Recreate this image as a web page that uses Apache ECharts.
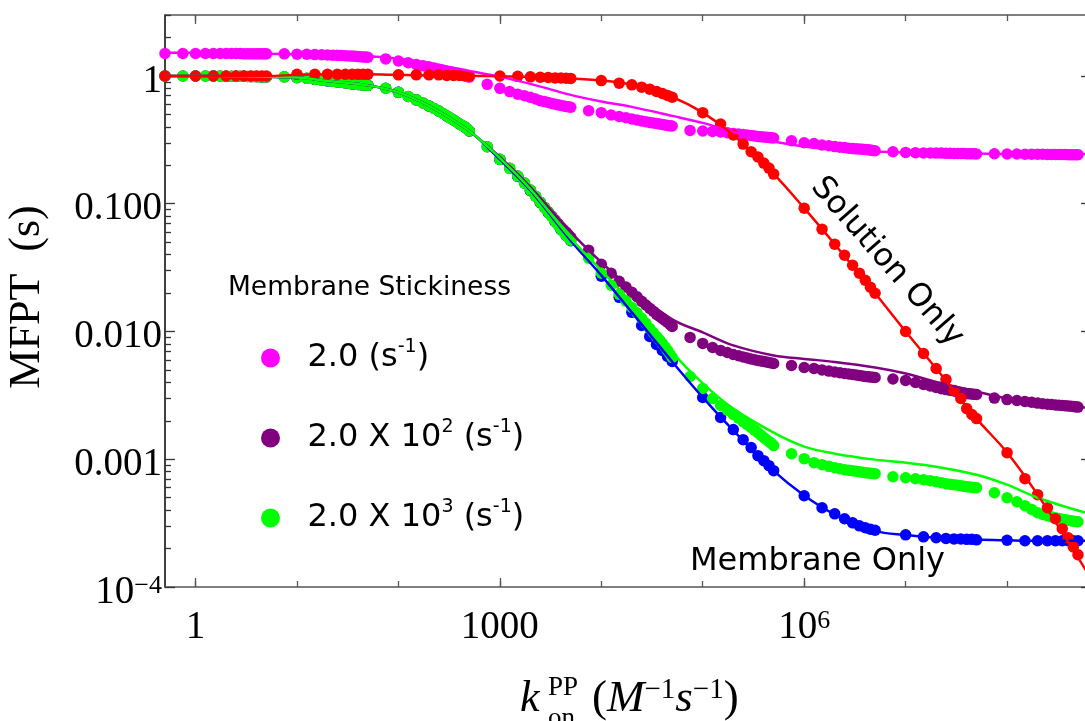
<!DOCTYPE html>
<html>
<head>
<meta charset="utf-8">
<script src="https://cdn.jsdelivr.net/npm/echarts@6/dist/echarts.min.js"></script>
<style>html,body{margin:0;padding:0;background:#fff}#c{width:1085px;height:721px}</style>
</head>
<body>
<div id="c"></div>
<script>
// ---------- data ----------
// k_on^PP sampling of the stickiness runs (magenta, purple, green dots)
const kA = [
  0.5, 0.75,
  1, 1.25, 1.5, 1.75, 2, 2.25, 2.5, 2.75, 3, 3.25, 3.5, 3.75, 4, 4.25, 4.5, 4.75, 5, 7.5,
  10, 12.5, 15, 17.5, 20, 22.5, 25, 27.5, 30, 32.5, 35, 37.5, 40, 42.5, 45, 47.5, 50, 75,
  100, 125, 150, 175, 200, 225, 250, 275, 300, 325, 350, 375, 400, 425, 450, 475, 500, 750,
  1e3, 1.25e3, 1.5e3, 1.75e3, 2e3, 2.25e3, 2.5e3, 2.75e3, 3e3, 3.25e3, 3.5e3, 3.75e3, 4e3, 4.25e3, 4.5e3, 4.75e3, 5e3, 7.5e3,
  1e4, 1.25e4, 1.5e4, 1.75e4, 2e4, 2.25e4, 2.5e4, 2.75e4, 3e4, 3.25e4, 3.5e4, 3.75e4, 4e4, 4.25e4, 4.5e4, 4.75e4, 5e4, 7.5e4,
  1e5, 1.25e5, 1.5e5, 1.75e5, 2e5, 2.25e5, 2.5e5, 2.75e5, 3e5, 3.25e5, 3.5e5, 3.75e5, 4e5, 4.25e5, 4.5e5, 4.75e5, 5e5, 7.5e5,
  1e6, 1.25e6, 1.5e6, 1.75e6, 2e6, 2.25e6, 2.5e6, 2.75e6, 3e6, 3.25e6, 3.5e6, 3.75e6, 4e6, 4.25e6, 4.5e6, 4.75e6, 5e6, 7.5e6,
  1e7, 1.25e7, 1.5e7, 1.75e7, 2e7, 2.25e7, 2.5e7, 2.75e7, 3e7, 3.25e7, 3.5e7, 3.75e7, 4e7, 4.25e7, 4.5e7, 4.75e7, 5e7, 7.5e7,
  1e8, 1.25e8, 1.5e8, 1.75e8, 2e8, 2.25e8, 2.5e8, 2.75e8, 3e8, 3.25e8, 3.5e8, 3.75e8, 4e8, 4.25e8, 4.5e8, 4.75e8, 5e8
];
// k_on^PP sampling of the membrane-only (blue) and solution-only (red) runs
const kB = [
  0.5,
  1, 1.5, 2, 2.5, 3, 3.5, 4, 4.5, 5,
  10, 15, 20, 25, 30, 35, 40, 45, 50,
  100, 150, 200, 250, 300, 350, 400, 450, 500,
  1e3, 1.5e3, 2e3, 2.5e3, 3e3, 3.5e3, 4e3, 4.5e3, 5e3,
  1e4, 1.5e4, 2e4, 2.5e4, 3e4, 3.5e4, 4e4, 4.5e4, 5e4,
  1e5, 1.5e5, 2e5, 2.5e5, 3e5, 3.5e5, 4e5, 4.5e5, 5e5,
  1e6, 1.5e6, 2e6, 2.5e6, 3e6, 3.5e6, 4e6, 4.5e6, 5e6,
  1e7, 1.5e7, 2e7, 2.5e7, 3e7, 3.5e7, 4e7, 4.5e7, 5e7,
  1e8, 1.5e8, 2e8, 2.5e8, 3e8, 3.5e8, 4e8, 4.5e8, 5e8
];
// k values of the fitted curves
const kFit = [0.5, 1, 2, 5, 10, 20, 50, 100, 200, 500, 1e3, 2e3, 5e3, 1e4, 2e4, 5e4,
  1e5, 2e5, 5e5, 1e6, 2e6, 5e6, 1e7, 2e7, 5e7, 1e8, 2e8, 6e8];

const magentaDots = [1.50, 1.50,
  1.50, 1.50, 1.50, 1.50, 1.50, 1.50, 1.50, 1.50, 1.49, 1.49, 1.49, 1.49, 1.49, 1.49, 1.49, 1.49, 1.49, 1.49,
  1.48, 1.48, 1.47, 1.465, 1.46, 1.455, 1.45, 1.445, 1.44, 1.435, 1.43, 1.425, 1.42, 1.415, 1.41, 1.405, 1.40, 1.36,
  1.31, 1.27, 1.23, 1.20, 1.18, 1.155, 1.13, 1.11, 1.09, 1.075, 1.06, 1.045, 1.03, 1.015, 1.00, 0.99, 0.98, 0.86,
  0.80, 0.754, 0.72, 0.70, 0.68, 0.66, 0.64, 0.63, 0.62, 0.61, 0.60, 0.594, 0.588, 0.582, 0.577, 0.573, 0.569, 0.535,
  0.516, 0.495, 0.482, 0.471, 0.461, 0.453, 0.445, 0.439, 0.433, 0.429, 0.425, 0.421, 0.417, 0.413, 0.41, 0.408, 0.406, 0.375,
  0.371, 0.368, 0.365, 0.36, 0.355, 0.351, 0.348, 0.345, 0.342, 0.339, 0.336, 0.334, 0.333, 0.331, 0.330, 0.328, 0.327, 0.311,
  0.300, 0.296, 0.288, 0.284, 0.280, 0.277, 0.275, 0.272, 0.270, 0.269, 0.268, 0.267, 0.266, 0.264, 0.263, 0.261, 0.260, 0.255,
  0.252, 0.251, 0.250, 0.250, 0.249, 0.249, 0.248, 0.248, 0.247, 0.247, 0.247, 0.247, 0.246, 0.246, 0.246, 0.246, 0.245, 0.246,
  0.245, 0.245, 0.244, 0.244, 0.244, 0.244, 0.243, 0.243, 0.243, 0.243, 0.243, 0.243, 0.242, 0.242, 0.242, 0.242, 0.242];
const purpleDots = [1.0, 1.0,
  1.0, 1.0, 1.0, 0.998, 0.996, 0.995, 0.993, 0.993, 0.993, 0.991, 0.989, 0.989, 0.989, 0.987, 0.984, 0.984, 0.984, 0.984,
  0.9715, 0.9576, 0.9404, 0.928, 0.9153, 0.907, 0.899, 0.891, 0.883, 0.875, 0.867, 0.863, 0.859, 0.855, 0.852, 0.848, 0.844, 0.802,
  0.744, 0.692, 0.650, 0.615, 0.583, 0.556, 0.532, 0.508, 0.486, 0.468, 0.452, 0.436, 0.421, 0.41, 0.399, 0.385, 0.371, 0.2795,
  0.2226, 0.1891, 0.1646, 0.145, 0.1278, 0.1145, 0.1029, 0.0937, 0.0865, 0.0802, 0.0745, 0.0698, 0.0656, 0.0626, 0.0599, 0.0572, 0.0547, 0.0433,
  0.0336, 0.02855, 0.0247, 0.0223, 0.02026, 0.0187, 0.01722, 0.0161, 0.01518, 0.0144, 0.01362, 0.0131, 0.01267, 0.0122, 0.01179, 0.01137, 0.01096, 0.00899,
  0.00807, 0.0075, 0.00711, 0.00684, 0.00661, 0.00646, 0.00632, 0.0062, 0.0061, 0.00601, 0.00593, 0.00588, 0.00583, 0.00577, 0.00572, 0.00567, 0.00562, 0.00542,
  0.00523, 0.00514, 0.0050, 0.0049, 0.00482, 0.00475, 0.00469, 0.00465, 0.00461, 0.00456, 0.00452, 0.00448, 0.00444, 0.00442, 0.0044, 0.00438, 0.00436, 0.00425,
  0.00414, 0.00399, 0.00385, 0.00374, 0.00364, 0.00357, 0.00351, 0.00346, 0.00342, 0.00337, 0.00333, 0.0033, 0.00327, 0.00325, 0.00324, 0.00322, 0.00321, 0.00301,
  0.00293, 0.00288, 0.00283, 0.00279, 0.00275, 0.00272, 0.0027, 0.00268, 0.00266, 0.00265, 0.002633, 0.00262, 0.00261, 0.0026, 0.00259, 0.00257, 0.00256];
const greenDots = [1.0, 1.0,
  1.0, 1.0, 1.0, 0.998, 0.996, 0.995, 0.993, 0.993, 0.993, 0.991, 0.989, 0.989, 0.989, 0.987, 0.984, 0.984, 0.984, 0.984,
  0.9715, 0.9576, 0.9404, 0.928, 0.9153, 0.907, 0.899, 0.891, 0.883, 0.875, 0.867, 0.863, 0.859, 0.855, 0.852, 0.848, 0.844, 0.802,
  0.744, 0.692, 0.650, 0.615, 0.583, 0.556, 0.532, 0.508, 0.486, 0.468, 0.452, 0.436, 0.421, 0.41, 0.399, 0.385, 0.371, 0.2795,
  0.2226, 0.1891, 0.1646, 0.145, 0.1278, 0.1145, 0.1029, 0.0935, 0.0859, 0.079, 0.0730, 0.0678, 0.0632, 0.0598, 0.0567, 0.0541, 0.0518, 0.0374,
  0.02855, 0.0230, 0.01954, 0.0173, 0.01545, 0.0140, 0.01267, 0.0116, 0.01057, 0.0098, 0.00915, 0.0086, 0.00807, 0.00757, 0.00711, 0.00667, 0.00626, 0.00444,
  0.00358, 0.00299, 0.002633, 0.00242, 0.002238, 0.0021, 0.00197, 0.00186, 0.00177, 0.00169, 0.001616, 0.00154, 0.001477, 0.00142, 0.001374, 0.00133, 0.001279, 0.001106,
  0.001011, 0.00094, 0.000907, 0.00088, 0.000859, 0.000843, 0.000829, 0.00082, 0.000814, 0.000806, 0.000799, 0.000792, 0.000785, 0.000781, 0.000778, 0.000774, 0.000771, 0.00073,
  0.000717, 0.000704, 0.000692, 0.00068, 0.000667, 0.000655, 0.000643, 0.000637, 0.000632, 0.000626, 0.000621, 0.000615, 0.00061, 0.000607, 0.000604, 0.000601, 0.000599, 0.000547,
  0.0005, 0.000465, 0.000433, 0.000405, 0.000381, 0.00037, 0.000361, 0.000354, 0.000348, 0.000343, 0.000339, 0.000336, 0.000333, 0.00033, 0.000327, 0.000325, 0.000324];
const blueDots = [1.0,
  1.0, 1.0, 0.996, 0.993, 0.993, 0.989, 0.989, 0.984, 0.984,
  0.9715, 0.9404, 0.9153, 0.899, 0.883, 0.867, 0.859, 0.852, 0.844,
  0.744, 0.650, 0.583, 0.532, 0.486, 0.452, 0.421, 0.399, 0.371,
  0.2218, 0.1632, 0.1266, 0.1020, 0.0851, 0.0724, 0.0626, 0.0562, 0.0514,
  0.02705, 0.0185, 0.01412, 0.01116, 0.00915, 0.00792, 0.00711, 0.00638, 0.00583,
  0.00304, 0.00212, 0.001707, 0.001424, 0.001233, 0.001067, 0.000975, 0.000891, 0.000814,
  0.000518, 0.000417, 0.000374, 0.000342, 0.000318, 0.000301, 0.000291, 0.000283, 0.000278,
  0.000256, 0.000247, 0.000243, 0.00024, 0.000238, 0.000238, 0.000236, 0.000236, 0.000234,
  0.000232, 0.00023, 0.00023, 0.00023, 0.00023, 0.00023, 0.00023, 0.00023, 0.00023];
const redDots = [1.0,
  1.0, 1.0, 1.0, 1.0, 1.0, 1.0, 1.0, 1.0, 1.0,
  1.03, 1.03, 1.03, 1.03, 1.03, 1.03, 1.03, 1.03, 1.03,
  1.02, 1.02, 1.02, 1.02, 1.01, 1.01, 1.01, 1.01, 1.0,
  1.0, 0.993, 0.984, 0.978, 0.972, 0.966, 0.963, 0.961, 0.957,
  0.92, 0.878, 0.852, 0.817, 0.788, 0.757, 0.730, 0.704, 0.682,
  0.516, 0.421, 0.345, 0.293, 0.255, 0.232, 0.208, 0.190, 0.1706,
  0.0923, 0.0632, 0.0482, 0.0395, 0.033, 0.0286, 0.0252, 0.0222, 0.0199,
  0.0100, 0.00673, 0.00513, 0.0042, 0.00345, 0.00299, 0.00249, 0.00224, 0.00208,
  0.001126, 0.000705, 0.000528, 0.000417, 0.000342, 0.000286, 0.000243, 0.000206, 0.000179];

const magentaFit = [1.518, 1.518, 1.504, 1.49, 1.477, 1.464, 1.425, 1.362, 1.255, 1.096, 0.984, 0.867, 0.711, 0.632,
  0.573, 0.487, 0.429, 0.364, 0.307, 0.281, 0.266, 0.256, 0.252, 0.249, 0.247, 0.245, 0.245, 0.245];
const purpleFit = [1.0, 1.0, 0.996, 0.984, 0.972, 0.915, 0.844, 0.744, 0.583, 0.371, 0.232, 0.135, 0.0599, 0.0348,
  0.0214, 0.01244, 0.00984, 0.00778, 0.00649, 0.0061, 0.00578, 0.00523, 0.00469, 0.00402, 0.00339, 0.00299, 0.00273, 0.00254];
const greenFit = [1.0, 1.0, 0.996, 0.984, 0.972, 0.915, 0.844, 0.744, 0.583, 0.371, 0.2278, 0.1302, 0.0537, 0.0301,
  0.0166, 0.00686, 0.00392, 0.00249, 0.001616, 0.001256, 0.001106, 0.000993, 0.00094, 0.000875, 0.000757, 0.000632, 0.0005, 0.000381];
const blueFit = [1.0, 1.0, 0.996, 0.984, 0.972, 0.915, 0.844, 0.744, 0.583, 0.371, 0.222, 0.127, 0.0514, 0.0275,
  0.0141, 0.0058, 0.00305, 0.00168, 0.00081, 0.00052, 0.00037, 0.000275, 0.000255, 0.000243, 0.000235, 0.000232, 0.00023, 0.00023];
const redFit = [1.0, 1.0, 1.0, 1.0, 1.02, 1.03, 1.03, 1.02, 1.01, 1.0, 0.995, 0.984, 0.957, 0.92,
  0.852, 0.682, 0.516, 0.345, 0.171, 0.0923, 0.0482, 0.0199, 0.0100, 0.00513, 0.00208, 0.00113, 0.000528, 0.000135];

// axes / ticks
const xRange = [0.5, 6e8];
const yRange = [1e-4, 3];
const xDecadeTicks = [1, 10, 100, 1e3, 1e4, 1e5, 1e6, 1e7, 1e8];
const xMajorTicks = [1, 1e3, 1e6];
const xTickLabels = ['1', '1000', '10{sup|6}'];
const yMajorTicks = [1e-4, 1e-3, 1e-2, 0.1, 1];
const yTickLabels = ['10{sup|\u22124}', '0.001', '0.010', '0.100', '1'];
const yMinorTicks = [2e-4, 3e-4, 4e-4, 5e-4, 6e-4, 7e-4, 8e-4, 9e-4,
  2e-3, 3e-3, 4e-3, 5e-3, 6e-3, 7e-3, 8e-3, 9e-3,
  0.02, 0.03, 0.04, 0.05, 0.06, 0.07, 0.08, 0.09,
  0.2, 0.3, 0.4, 0.5, 0.6, 0.7, 0.8, 0.9, 2, 3];
const legendNames = ['s2', 's200', 's2000'];
const legendLabels = ['2.0 (s{sup|-1})', '2.0 X 10{sup|2} (s{sup|-1})', '2.0 X 10{sup|3} (s{sup|-1})'];

// ---------- chart ----------
const L = Math.log10;
const pairs = (ks, vs) => ks.map((k, i) => [k, vs[i]]);
const serif = 'Liberation Serif';
const sans = 'DejaVu Sans';
const axisGray = '#555';

function pick(ticks, labels) {
  return v => { const i = ticks.findIndex(t => Math.abs(L(t) - v) < 1e-6); return i >= 0 ? labels[i] : ''; };
}
function ovX(pos, ticks, len, extra) {
  return Object.assign({
    type: 'value', position: pos, min: L(xRange[0]), max: L(xRange[1]),
    axisLine: { show: false, onZero: false },
    axisTick: { show: true, inside: true, length: len, customValues: ticks.map(L), lineStyle: { color: axisGray, width: 1.3 } },
    axisLabel: { show: false }, splitLine: { show: false }
  }, extra || {});
}
function ovY(pos, ticks, len, extra) {
  return Object.assign({
    type: 'value', position: pos, min: L(yRange[0]), max: L(yRange[1]),
    axisLine: { show: false, onZero: false },
    axisTick: { show: true, inside: true, length: len, customValues: ticks.map(L), lineStyle: { color: '#333', width: 1.3 } },
    axisLabel: { show: false }, splitLine: { show: false }
  }, extra || {});
}

const colors = { magenta: '#ff00ff', purple: '#800080', green: '#00ff00', blue: '#0000ff', red: '#ff0000' };
function dots(name, ks, vs, color) {
  return { name: name, type: 'scatter', data: pairs(ks, vs), symbol: 'circle', symbolSize: 11.5,
    itemStyle: { color: color, opacity: 1 }, xAxisIndex: 0, yAxisIndex: 0, silent: true };
}
function fit(ks, vs, color) {
  return { type: 'line', data: pairs(ks, vs), smooth: 0.35, showSymbol: false, symbol: 'none',
    lineStyle: { color: color, width: 2.5, opacity: 1 }, xAxisIndex: 0, yAxisIndex: 0, silent: true };
}

const chart = echarts.init(document.getElementById('c'), null, { renderer: 'canvas' });
chart.setOption({
  animation: false,
  backgroundColor: '#fff',
  grid: { left: 165, right: -1, top: 15, bottom: 134, containLabel: false, outerBoundsMode: 'none' },
  xAxis: [
    { type: 'log', logBase: 10, min: xRange[0], max: xRange[1], position: 'bottom',
      axisLine: { show: true, onZero: false, lineStyle: { color: axisGray, width: 1.5 } },
      axisTick: { show: false }, axisLabel: { show: false }, splitLine: { show: false }, minorTick: { show: false } },
    ovX('bottom', xDecadeTicks, 6),
    ovX('bottom', xMajorTicks, 9, {
      axisLabel: { show: true, customValues: xMajorTicks.map(L), formatter: pick(xMajorTicks, xTickLabels),
        margin: 21, color: '#000', fontFamily: serif, fontSize: 39, lineHeight: 39,
        rich: { sup: { fontFamily: serif, fontSize: 26, lineHeight: 17, verticalAlign: 'top', color: '#000' } } }
    }),
    ovX('top', xDecadeTicks, 6, { axisLine: { show: true, onZero: false, lineStyle: { color: axisGray, width: 1.5 } } }),
    ovX('top', xMajorTicks, 9)
  ],
  yAxis: [
    { type: 'log', logBase: 10, min: yRange[0], max: yRange[1], position: 'left',
      axisLine: { show: true, onZero: false, lineStyle: { color: '#000', width: 1.5 } },
      axisTick: { show: false }, axisLabel: { show: false }, splitLine: { show: false }, minorTick: { show: false } },
    ovY('left', yMajorTicks, 10, {
      axisLabel: { show: true, customValues: yMajorTicks.map(L), formatter: pick(yMajorTicks, yTickLabels),
        margin: 3, color: '#000', fontFamily: serif, fontSize: 39, lineHeight: 39, padding: [11, 0, 0, 0],
        rich: { sup: { fontFamily: serif, fontSize: 26, lineHeight: 19, verticalAlign: 'top', color: '#000' } } }
    }),
    ovY('left', yMinorTicks, 6),
    ovY('right', yMajorTicks, 5, { axisLine: { show: true, onZero: false, lineStyle: { color: axisGray, width: 1.5 } } })
  ],
  legend: {
    data: legendNames, orient: 'vertical', left: 256, top: 333,
    itemWidth: 64, itemHeight: 19, itemGap: 40, icon: 'circle', selectedMode: false,
    formatter: name => legendLabels[legendNames.indexOf(name)],
    textStyle: { fontFamily: sans, fontSize: 32, color: '#000', lineHeight: 40,
      rich: { sup: { fontFamily: sans, fontSize: 19, lineHeight: 24, verticalAlign: 'top', color: '#000' } } }
  },
  graphic: [
    { type: 'text', x: 228, y: 288, silent: true,
      style: { text: 'Membrane Stickiness', fill: '#000', fontFamily: sans, fontSize: 26.5, align: 'left', verticalAlign: 'middle' } },
    { type: 'text', x: 690, y: 562, silent: true,
      style: { text: 'Membrane Only', fill: '#000', fontFamily: sans, fontSize: 32, align: 'left', verticalAlign: 'middle' } },
    { type: 'text', x: 887, y: 262, rotation: -0.85, silent: true,
      style: { text: 'Solution Only', fill: '#000', fontFamily: sans, fontSize: 32, align: 'center', verticalAlign: 'middle' } },
    { type: 'text', x: 27, y: 297, rotation: Math.PI / 2, silent: true,
      style: { text: 'MFPT  (s)', fill: '#000', fontFamily: serif, fontSize: 44, align: 'center', verticalAlign: 'middle' } },
    { type: 'text', x: 520, y: 699, silent: true,
      style: { text: 'k', fill: '#000', fontFamily: serif, fontStyle: 'italic', fontSize: 44, align: 'left', verticalAlign: 'middle' } },
    { type: 'text', x: 548, y: 688, silent: true,
      style: { text: 'PP', fill: '#000', fontFamily: serif, fontSize: 27, align: 'left', verticalAlign: 'middle' } },
    { type: 'text', x: 548, y: 719, silent: true,
      style: { text: 'on', fill: '#000', fontFamily: serif, fontSize: 27, align: 'left', verticalAlign: 'middle' } },
    { type: 'text', x: 592, y: 699, silent: true,
      style: { text: '({it|M}{sup|\u22121}{it|s}{sup|\u22121})', fill: '#000', fontFamily: serif, fontSize: 45, lineHeight: 46,
        align: 'left', verticalAlign: 'middle',
        rich: { it: { fontFamily: serif, fontStyle: 'italic', fontSize: 45, lineHeight: 46, fill: '#000' },
                sup: { fontFamily: serif, fontSize: 29, lineHeight: 26, verticalAlign: 'top', fill: '#000' } } } }
  ],
  series: [
    dots('blueDots', kB, blueDots, colors.blue),
    fit(kFit, blueFit, colors.blue),
    dots('s200', kA, purpleDots, colors.purple),
    fit(kFit, purpleFit, colors.purple),
    dots('s2000', kA, greenDots, colors.green),
    fit(kFit, greenFit, colors.green),
    dots('s2', kA, magentaDots, colors.magenta),
    fit(kFit, magentaFit, colors.magenta),
    dots('redDots', kB, redDots, colors.red),
    fit(kFit, redFit, colors.red)
  ]
});
</script>
</body>
</html>
